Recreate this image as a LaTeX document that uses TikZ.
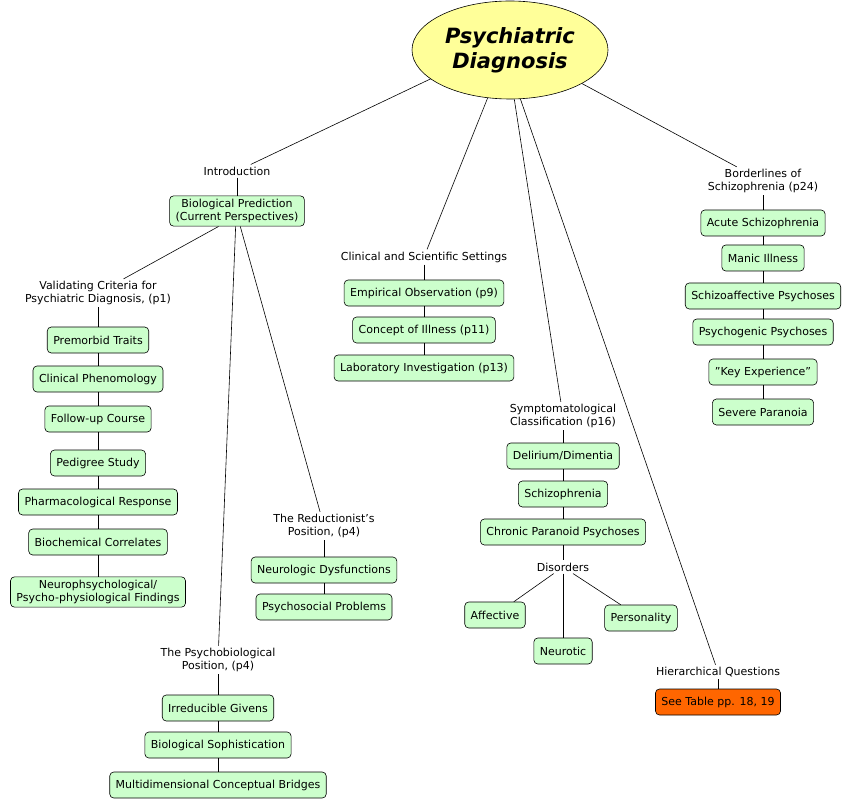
\documentclass[tikz,border=0pt]{standalone}
\usepackage{fontspec}
\setmainfont{DejaVu Sans}
\usetikzlibrary{shapes.geometric}
\definecolor{bx}{RGB}{204,255,204}
\definecolor{og}{RGB}{255,102,0}
\definecolor{yl}{RGB}{255,255,153}
\begin{document}
\begin{tikzpicture}[x=1pt,y=-1pt,
 box/.style={draw=black,fill=bx,rounded corners=4pt,inner xsep=6pt,minimum height=26pt,align=center,font=\fontsize{11}{13}\selectfont},
 lab/.style={align=center,inner sep=2pt,font=\fontsize{11}{13}\selectfont},
 every path/.style={line width=0.6pt}]
\useasboundingbox (0,0) rectangle (851,802);
\node[ellipse,draw,fill=yl,minimum width=196pt,minimum height=98pt,align=center,font=\fontsize{21}{25}\selectfont\bfseries\itshape] (root) at (510,50) {Psychiatric\\Diagnosis};
\node[lab] (intro) at (237,171) {Introduction};
\node[box] (bio) at (237,211) {Biological Prediction\\(Current Perspectives)};
\node[lab] (val) at (98,293) {Validating Criteria for\\Psychiatric Diagnosis, (p1)};
\node[box] (v1) at (98,340) {Premorbid Traits};
\node[box] (v2) at (98,379) {Clinical Phenomology};
\node[box] (v3) at (98,419) {Follow-up Course};
\node[box] (v4) at (98,463) {Pedigree Study};
\node[box] (v5) at (98,502) {Pharmacological Response};
\node[box] (v6) at (98,542) {Biochemical Correlates};
\node[box] (v7) at (98,592) {Neurophsychological/\\Psycho-physiological Findings};
\node[lab] (psy) at (218,660) {The Psychobiological\\Position, (p4)};
\node[box] (p1) at (218,708) {Irreducible Givens};
\node[box] (p2) at (218,745) {Biological Sophistication};
\node[box] (p3) at (218,785) {Multidimensional Conceptual Bridges};
\node[lab] (red) at (324,526) {The Reductionist's\\Position, (p4)};
\node[box] (r1) at (324,570) {Neurologic Dysfunctions};
\node[box] (r2) at (324,607) {Psychosocial Problems};
\node[lab] (cs) at (424,257) {Clinical and Scientific Settings};
\node[box] (c1) at (424,293) {Empirical Observation (p9)};
\node[box] (c2) at (424,330) {Concept of Illness (p11)};
\node[box] (c3) at (424,368) {Laboratory Investigation (p13)};
\node[lab] (sym) at (563,416) {Symptomatological\\Classification (p16)};
\node[box] (s1) at (563,456) {Delirium/Dimentia};
\node[box] (s2) at (563,494) {Schizophrenia};
\node[box] (s3) at (563,532) {Chronic Paranoid Psychoses};
\node[lab] (dis) at (563,567) {Disorders};
\node[box] (d1) at (495,615) {Affective};
\node[box] (d2) at (563,651) {Neurotic};
\node[box] (d3) at (641,618) {Personality};
\node[lab] (hq) at (718,672) {Hierarchical Questions};
\node[box,fill=og] (see) at (718,702) {See Table pp. 18, 19};
\node[lab] (bd) at (763,181) {Borderlines of\\Schizophrenia (p24)};
\node[box] (b1) at (763,223) {Acute Schizophrenia};
\node[box] (b2) at (763,258) {Manic Illness};
\node[box] (b3) at (763,296) {Schizoaffective Psychoses};
\node[box] (b4) at (763,332) {Psychogenic Psychoses};
\node[box] (b5) at (763,372) {"Key Experience"};
\node[box] (b6) at (763,412) {Severe Paranoia};
\draw (root.200) -- (intro);
\draw (root.245) -- (cs);
\draw (root.275) -- (sym);
\draw (root.282) -- (hq);
\draw (root.335) -- (bd);
\draw (intro) -- (bio);
\draw (bio.220) -- (val);
\draw (bio.265) -- (psy);
\draw (bio.282) -- (red);
\draw (val)--(v1)--(v2)--(v3)--(v4)--(v5)--(v6)--(v7);
\draw (psy)--(p1)--(p2)--(p3);
\draw (red)--(r1)--(r2);
\draw (cs)--(c1)--(c2)--(c3);
\draw (sym)--(s1)--(s2)--(s3)--(dis);
\draw (dis)--(d1); \draw (dis)--(d2); \draw (dis)--(d3);
\draw (hq)--(see);
\draw (bd)--(b1)--(b2)--(b3)--(b4)--(b5)--(b6);
\end{tikzpicture}
\end{document}
